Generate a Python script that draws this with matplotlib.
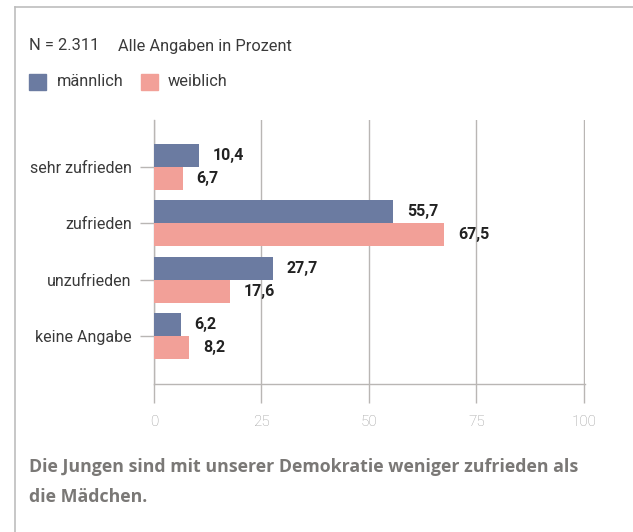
import matplotlib
matplotlib.use("Agg")
import matplotlib.pyplot as plt
from matplotlib.patches import Rectangle
from matplotlib.lines import Line2D

categories = ["sehr zufrieden", "zufrieden", "unzufrieden", "keine Angabe"]
maennlich = [10.4, 55.7, 27.7, 6.2]
weiblich = [6.7, 67.5, 17.6, 8.2]
x_ticks = [0, 25, 50, 75, 100]

blue = "#6b7ba1"
pink = "#f2a098"
grid_col = "#b9b6b4"
label_font = "Roboto"

fig = plt.figure(figsize=(6.33, 5.32), dpi=100)
ax = fig.add_axes([154 / 633, 1 - 384 / 532, (585 - 154) / 633, (384 - 120) / 532])

y = list(range(len(categories)))
h = 0.407
ax.barh([i - h / 2 for i in y], maennlich, height=h, color=blue, zorder=3)
ax.barh([i + h / 2 for i in y], weiblich, height=h, color=pink, zorder=3)

for i in y:
    ax.annotate(f"{maennlich[i]:.1f}".replace(".", ","), (maennlich[i], i - h / 2),
                xytext=(10, 0), textcoords="offset points", va="center", ha="left",
                fontsize=11.5, fontweight="bold", family=label_font, color="#222222")
    ax.annotate(f"{weiblich[i]:.1f}".replace(".", ","), (weiblich[i], i + h / 2),
                xytext=(10, 0), textcoords="offset points", va="center", ha="left",
                fontsize=11.5, fontweight="bold", family=label_font, color="#222222")

ax.set_xlim(0, 100.25)
ax.set_ylim(3.85, -0.83)
ax.set_yticks(y)
ax.set_yticklabels(categories, family=label_font, fontsize=11.5, color="#3a3a3a")
ax.set_xticks(x_ticks)
ax.set_xticklabels([str(t) for t in x_ticks], family=label_font, fontweight="light",
                   fontsize=11, color="#9c9c9c")
ax.tick_params(axis="y", length=10, width=1, color=grid_col, pad=6)
ax.tick_params(axis="x", length=14, width=1, color=grid_col, pad=8)
ax.grid(axis="x", color=grid_col, linewidth=1, zorder=0)
for s in ["top", "right"]:
    ax.spines[s].set_visible(False)
for s in ["left", "bottom"]:
    ax.spines[s].set_color(grid_col)
    ax.spines[s].set_linewidth(1)

# card border (top and left)
fig.add_artist(Line2D([15 / 633, 15 / 633], [0, 1 - 7 / 532], color="#bdbdbd", lw=1.2))
fig.add_artist(Line2D([15 / 633, 1], [1 - 7 / 532, 1 - 7 / 532], color="#bdbdbd", lw=1.2))

head = dict(family=label_font, fontsize=11.8, color="#3a3a3a", va="center")
fig.text(29 / 633, 1 - 46 / 532, "N = 2.311", **head)
fig.text(118 / 633, 1 - 46 / 532, "Alle Angaben in Prozent", **head)

fig.add_artist(Rectangle((29 / 633, 1 - 90 / 532), 17 / 633, 16 / 532, color=blue,
                         transform=fig.transFigure))
fig.text(57 / 633, 1 - 82 / 532, "männlich", **head)
fig.add_artist(Rectangle((141 / 633, 1 - 90 / 532), 17 / 633, 16 / 532, color=pink,
                         transform=fig.transFigure))
fig.text(168 / 633, 1 - 82 / 532, "weiblich", **head)

cap = dict(family="Open Sans", fontsize=12.8, fontweight="bold", color="#7a7876", va="center")
fig.text(29 / 633, 1 - 467 / 532, "Die Jungen sind mit unserer Demokratie weniger zufrieden als", **cap)
fig.text(29 / 633, 1 - 497 / 532, "die Mädchen.", **cap)

fig.savefig("out.png", dpi=100)
